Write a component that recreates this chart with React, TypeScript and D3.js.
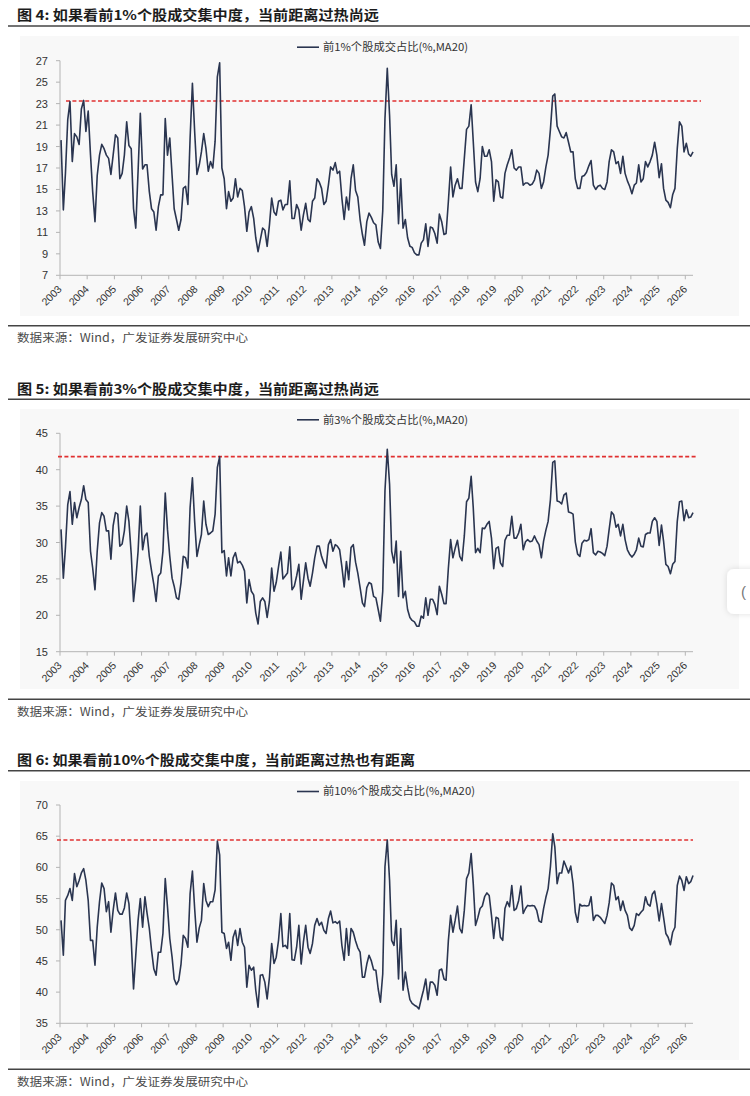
import React from "react";
import * as d3 from "d3";

// Monthly samples, Jan 2003 .. Apr 2026 (280 points)
const top1: number[] = [
  19.6, 13.1, 16.5, 21.5, 23.2, 17.6, 20.2, 19.9, 19.2, 22.5, 23.3, 20.4,
  22.3, 18.2, 14.8, 12.0, 16.3, 18.2, 19.2, 18.8, 18.2, 17.9, 16.4, 18.2,
  20.1, 19.8, 16.0, 16.5, 18.2, 21.3, 19.1, 18.8, 13.2, 11.4, 16.7, 22.1,
  16.9, 17.3, 17.3, 14.8, 13.2, 12.9, 11.2, 13.4, 14.5, 14.5, 21.6, 18.2,
  19.8, 16.3, 13.2, 12.2, 11.2, 12.2, 15.1, 15.3, 13.6, 19.8, 24.9, 20.4,
  16.4, 17.3, 18.5, 20.2, 18.8, 16.7, 17.6, 17.0, 19.5, 25.5, 26.8, 17.0,
  16.0, 13.2, 14.8, 13.9, 14.2, 16.0, 14.3, 15.1, 14.9, 13.4, 11.1, 12.9,
  13.4, 12.3, 10.5, 9.2, 10.3, 11.4, 11.2, 9.7, 11.7, 14.2, 12.9, 12.6,
  13.9, 14.0, 13.1, 13.6, 13.6, 15.8, 12.3, 12.3, 13.6, 13.1, 11.2, 12.6,
  13.7, 12.2, 12.0, 13.9, 14.2, 16.0, 15.7, 15.1, 13.6, 13.9, 15.4, 17.1,
  16.8, 17.5, 16.5, 16.7, 14.2, 12.2, 14.3, 13.1, 16.0, 17.3, 14.9, 14.3,
  12.2, 10.8, 9.8, 12.0, 12.8, 12.4, 11.9, 11.7, 10.1, 9.5, 13.0, 21.6,
  26.3, 21.9, 16.4, 15.3, 17.3, 11.8, 16.0, 11.4, 12.2, 10.5, 9.7, 9.6,
  9.1, 8.9, 8.9, 10.0, 10.3, 11.8, 9.7, 11.5, 11.4, 10.9, 10.0, 12.7,
  12.0, 10.8, 10.9, 13.9, 17.1, 14.3, 15.4, 16.0, 15.1, 15.1, 17.9, 20.6,
  20.9, 22.9, 19.5, 15.7, 14.8, 16.0, 19.0, 18.1, 18.1, 18.7, 17.6, 13.9,
  15.9, 15.7, 14.3, 14.2, 16.5, 17.3, 17.9, 18.7, 17.0, 16.8, 17.1, 17.1,
  15.4, 15.6, 15.6, 15.4, 15.5, 15.9, 16.8, 16.5, 15.1, 15.7, 17.1, 18.2,
  20.6, 23.7, 23.9, 20.9, 20.4, 19.9, 19.8, 20.3, 19.4, 18.5, 18.5, 16.0,
  15.1, 15.1, 16.2, 16.3, 16.6, 17.2, 17.7, 15.4, 15.0, 15.3, 15.4, 15.1,
  15.0, 15.7, 17.6, 18.7, 18.5, 17.4, 17.6, 16.5, 18.1, 16.5, 15.8, 15.3,
  14.6, 15.4, 15.6, 17.3, 15.7, 16.0, 17.6, 17.1, 17.6, 18.2, 19.4, 18.2,
  16.1, 17.4, 15.1, 14.0, 13.8, 13.3, 14.5, 15.1, 18.8, 21.3, 20.9, 18.5,
  19.3, 18.3, 18.1, 18.5,
];

const top3: number[] = [
  31.8, 25.1, 29.3, 35.2, 37.0, 32.5, 35.5, 33.4, 34.8, 35.9, 37.8, 35.9,
  35.5, 28.8, 26.5, 23.5, 28.8, 32.7, 34.1, 33.6, 31.6, 31.6, 27.7, 32.3,
  34.1, 33.9, 29.5, 29.8, 31.6, 35.0, 32.9, 28.4, 21.9, 24.9, 28.8, 35.0,
  29.0, 30.9, 31.3, 28.1, 26.1, 24.2, 21.9, 25.4, 25.8, 28.8, 36.8, 31.8,
  28.1, 25.1, 24.0, 22.4, 22.2, 24.5, 28.1, 27.9, 26.5, 34.8, 38.9, 32.9,
  28.1, 29.7, 31.1, 35.7, 32.5, 31.1, 31.3, 31.6, 33.9, 40.3, 41.8, 28.6,
  28.9, 25.4, 27.9, 25.4, 27.9, 28.6, 27.2, 27.4, 26.9, 26.1, 21.7, 24.9,
  23.3, 22.8, 20.3, 18.8, 21.9, 22.4, 21.9, 19.7, 21.9, 26.5, 23.3, 24.5,
  26.7, 28.7, 25.0, 25.4, 25.8, 29.4, 23.5, 24.0, 25.4, 27.0, 22.2, 24.7,
  27.2, 25.1, 24.0, 25.8, 27.9, 29.5, 29.5, 28.1, 27.2, 26.5, 29.7, 30.4,
  28.8, 29.7, 29.5, 29.0, 26.7, 23.9, 27.4, 24.9, 29.3, 29.7, 27.3, 25.8,
  23.8, 21.7, 21.2, 23.8, 24.5, 24.3, 22.6, 22.4, 20.8, 19.2, 23.3, 37.1,
  42.8, 38.0, 28.8, 27.2, 30.2, 22.6, 28.8, 22.4, 23.3, 20.8, 19.7, 19.3,
  19.1, 18.5, 18.5, 19.9, 19.6, 22.4, 20.0, 22.2, 22.2, 21.5, 20.1, 24.0,
  22.9, 21.6, 21.6, 26.5, 30.4, 27.9, 29.2, 30.3, 28.1, 27.5, 30.9, 35.6,
  36.1, 39.1, 34.8, 28.6, 29.2, 28.6, 32.0, 31.9, 32.5, 32.9, 30.6, 26.4,
  29.2, 29.4, 27.2, 26.7, 30.3, 31.0, 31.0, 33.6, 30.6, 30.6, 31.3, 32.5,
  29.0, 30.1, 30.4, 30.1, 30.2, 30.9, 30.2, 29.7, 27.9, 30.2, 31.7, 32.9,
  35.9, 41.0, 41.2, 35.7, 35.6, 35.3, 36.5, 36.8, 34.2, 34.1, 33.9, 30.1,
  28.4, 28.1, 29.9, 30.3, 30.2, 30.4, 31.9, 28.6, 28.3, 28.8, 28.7, 28.5,
  28.2, 29.5, 31.8, 34.2, 33.8, 32.1, 32.5, 30.9, 32.5, 30.4, 29.0, 28.4,
  28.0, 28.4, 29.0, 30.6, 29.5, 29.4, 31.1, 31.3, 31.3, 32.9, 33.4, 32.9,
  29.6, 32.4, 30.2, 27.0, 26.7, 25.7, 27.0, 27.4, 32.9, 35.6, 35.7, 33.0,
  34.5, 33.4, 33.5, 34.1,
];

const top10: number[] = [
  51.5, 45.9, 54.7, 55.5, 56.6, 54.7, 59.0, 56.9, 57.9, 59.1, 59.8, 57.9,
  54.7, 48.3, 48.3, 44.3, 50.4, 54.5, 57.5, 56.6, 52.9, 54.5, 49.6, 53.1,
  55.9, 53.1, 52.5, 52.5, 53.5, 55.9, 54.2, 48.3, 40.5, 45.9, 51.5, 55.0,
  50.4, 55.3, 52.7, 50.2, 46.7, 43.7, 42.7, 46.4, 46.4, 49.4, 58.2, 53.7,
  48.6, 45.6, 42.1, 41.2, 41.9, 44.5, 49.1, 48.6, 47.2, 55.8, 59.4, 53.4,
  48.0, 50.3, 51.5, 57.4, 54.7, 53.7, 54.5, 54.5, 56.4, 64.2, 62.0, 49.6,
  49.4, 47.0, 48.0, 45.1, 48.8, 49.9, 47.5, 50.2, 48.0, 47.2, 40.8, 44.3,
  43.5, 44.0, 40.3, 37.6, 42.7, 42.8, 41.6, 38.9, 42.4, 47.8, 44.6, 45.6,
  48.3, 52.6, 47.3, 47.5, 47.0, 52.6, 45.2, 45.1, 47.2, 50.7, 44.5, 48.0,
  50.7, 47.2, 46.2, 47.8, 50.7, 51.8, 50.7, 51.2, 49.9, 49.4, 51.8, 53.0,
  51.1, 51.3, 51.0, 51.4, 47.5, 45.1, 50.2, 45.9, 50.2, 49.6, 48.2, 47.1,
  46.4, 42.4, 42.4, 44.5, 45.9, 45.0, 43.6, 43.5, 40.5, 38.4, 42.9, 60.1,
  64.4, 57.9, 48.3, 47.5, 51.5, 42.1, 50.2, 40.3, 43.2, 40.8, 38.8, 38.2,
  37.9, 37.7, 37.3, 38.9, 40.3, 42.1, 38.8, 41.6, 41.6, 41.1, 39.5, 43.5,
  43.7, 42.1, 41.9, 48.3, 52.3, 49.6, 51.5, 53.8, 50.2, 49.5, 53.1, 58.2,
  59.1, 62.2, 57.4, 50.7, 51.9, 53.4, 53.8, 55.3, 55.9, 55.5, 52.3, 48.6,
  52.0, 51.8, 48.8, 48.3, 53.4, 54.5, 53.7, 57.1, 53.1, 53.4, 54.7, 57.0,
  52.6, 53.4, 53.9, 53.8, 53.9, 53.8, 53.1, 51.4, 51.2, 53.4, 55.2, 56.6,
  60.1, 65.4, 63.3, 57.4, 59.1, 59.1, 61.0, 60.1, 59.1, 60.2, 57.4, 52.8,
  51.2, 54.1, 53.8, 53.9, 53.8, 53.9, 55.3, 51.5, 52.3, 52.3, 52.0, 51.5,
  51.0, 52.3, 54.3, 57.5, 57.1, 54.8, 55.3, 53.1, 54.6, 53.1, 52.3, 50.3,
  49.9, 50.7, 52.6, 52.3, 52.8, 53.2, 55.3, 54.1, 53.8, 55.7, 56.2, 54.1,
  51.4, 54.2, 52.0, 49.4, 48.8, 47.6, 49.6, 50.4, 57.1, 58.6, 57.9, 56.3,
  58.5, 57.4, 57.7, 58.7,
];

const yearLabels = [
  "2003", "2004", "2005", "2006", "2007", "2008", "2009", "2010", "2011", "2012", "2013", "2014",
  "2015", "2016", "2017", "2018", "2019", "2020", "2021", "2022", "2023", "2024", "2025", "2026",
];
const ticks1 = [7, 9, 11, 13, 15, 17, 19, 21, 23, 25, 27];
const ticks3 = [15, 20, 25, 30, 35, 40, 45];
const ticks10 = [35, 40, 45, 50, 55, 60, 65, 70];
const redLevels = [23.25, 41.8, 64.4];

const titles = [
  "图 4:  如果看前1%个股成交集中度，当前距离过热尚远",
  "图 5:  如果看前3%个股成交集中度，当前距离过热尚远",
  "图 6:  如果看前10%个股成交集中度，当前距离过热也有距离",
];
const legends = [
  "前1%个股成交占比(%,MA20)",
  "前3%个股成交占比(%,MA20)",
  "前10%个股成交占比(%,MA20)",
];
const sourceText = "数据来源：Wind，广发证券发展研究中心";

const months: Date[] = d3
  .timeMonth.range(new Date(2003, 0, 1), new Date(2026, 4, 1))
  .map((d) => new Date(d.getFullYear(), d.getMonth(), 15));

const NAVY = "#2a3550";
const RED = "#e03030";
const CJK = "'Noto Sans CJK SC', 'Noto Sans', sans-serif";
const LAT = "'Liberation Sans', Arial, sans-serif";

type Cfg = {
  title: string;
  titleLen: number;
  titleY: number;
  ruleY: number;
  bgTop: number;
  bgBottom: number;
  legend: string;
  legendLen: number;
  plotTop: number;
  plotBottom: number;
  ticks: number[];
  data: number[];
  red: number;
  redX0: number;
  redX1: number;
  bottomRule: number;
  sourceY: number;
};

const cfgs: Cfg[] = [
  {
    title: titles[0], titleLen: 362, titleY: 19.5, ruleY: 26, bgTop: 36, bgBottom: 316,
    legend: legends[0], legendLen: 145, plotTop: 60.7, plotBottom: 275.3, ticks: ticks1,
    data: top1, red: redLevels[0], redX0: 66, redX1: 701, bottomRule: 325.7, sourceY: 342,
  },
  {
    title: titles[1], titleLen: 362, titleY: 393.5, ruleY: 399.3, bgTop: 409, bgBottom: 689,
    legend: legends[1], legendLen: 145, plotTop: 433.3, plotBottom: 651.7, ticks: ticks3,
    data: top3, red: redLevels[1], redX0: 58, redX1: 697, bottomRule: 699.3, sourceY: 716,
  },
  {
    title: titles[2], titleLen: 398, titleY: 765, ruleY: 770.7, bgTop: 781, bgBottom: 1060,
    legend: legends[2], legendLen: 152, plotTop: 805, plotBottom: 1023.3, ticks: ticks10,
    data: top10, red: redLevels[2], redX0: 57, redX1: 693, bottomRule: 1069.3, sourceY: 1086,
  },
];

function Panel({ c }: { c: Cfg }) {
  const x = d3
    .scaleTime()
    .domain([new Date(2003, 0, 1), new Date(2026, 0, 1)])
    .range([60, 685.3]);
  const y = d3
    .scaleLinear()
    .domain([c.ticks[0], c.ticks[c.ticks.length - 1]])
    .range([c.plotBottom, c.plotTop]);
  const line = d3
    .line<number>()
    .x((_, i) => x(months[i]))
    .y((v) => y(v));
  const axisColor = "#b4b4b4";
  const xAxisEnd = 693;
  const legendY = c.plotTop - 13.5;
  return (
    <g>
      <text x={17} y={c.titleY} fontFamily={CJK} fontWeight={700} fontSize={13.5} fill="#1c1c1c"
        textLength={c.titleLen} lengthAdjust="spacingAndGlyphs">{c.title}</text>
      <line x1={8} x2={750} y1={c.ruleY} y2={c.ruleY} stroke="#444" strokeWidth={1.6} />
      <rect x={20} y={c.bgTop} width={719} height={c.bgBottom - c.bgTop} fill="#f8f8f8" />
      {/* legend */}
      <line x1={297} x2={319} y1={legendY} y2={legendY} stroke={NAVY} strokeWidth={1.6} />
      <text x={323} y={legendY + 3.8} fontFamily={CJK} fontSize={11} fill="#333"
        textLength={c.legendLen} lengthAdjust="spacingAndGlyphs">{c.legend}</text>
      {/* y axis */}
      <line x1={60} x2={60} y1={c.plotTop} y2={c.plotBottom} stroke={axisColor} strokeWidth={1} />
      {c.ticks.map((t) => (
        <g key={t}>
          <line x1={56} x2={60} y1={y(t)} y2={y(t)} stroke={axisColor} strokeWidth={1} />
          <text x={48} y={y(t) + 4} textAnchor="end" fontFamily={LAT} fontSize={11} fill="#333">{t}</text>
        </g>
      ))}
      {/* x axis */}
      <line x1={60} x2={xAxisEnd} y1={c.plotBottom} y2={c.plotBottom} stroke={axisColor} strokeWidth={1} />
      {yearLabels.map((lab) => {
        const tx = x(new Date(+lab, 0, 1));
        return (
          <g key={lab}>
            <line x1={tx} x2={tx} y1={c.plotBottom} y2={c.plotBottom + 4} stroke={axisColor} strokeWidth={1} />
            <text transform={`translate(${tx + 2.5},${c.plotBottom + 14.5}) rotate(-45)`} textAnchor="end"
              fontFamily={LAT} fontSize={10.5} fill="#333">{lab}</text>
          </g>
        );
      })}
      {/* red threshold */}
      <line x1={c.redX0} x2={c.redX1} y1={y(c.red)} y2={y(c.red)} stroke={RED} strokeWidth={1.6}
        strokeDasharray="4 2.4" />
      {/* series */}
      <path d={line(c.data) || ""} fill="none" stroke={NAVY} strokeWidth={1.6} strokeLinejoin="round" />
      {/* footer */}
      <line x1={8} x2={750} y1={c.bottomRule} y2={c.bottomRule} stroke="#444" strokeWidth={1.6} />
      <text x={17} y={c.sourceY} fontFamily={CJK} fontSize={11.5} fill="#4a4a4a"
        textLength={231} lengthAdjust="spacingAndGlyphs">{sourceText}</text>
    </g>
  );
}

export default function App() {
  return (
    <svg width={750} height={1096} viewBox="0 0 750 1096"
      style={{ position: "absolute", left: 0, top: 0, display: "block", background: "#fff" }}>
      <defs>
        <filter id="chipShadow" x="-50%" y="-50%" width="200%" height="200%">
          <feDropShadow dx={0} dy={0} stdDeviation={3} floodColor="#000" floodOpacity={0.12} />
        </filter>
      </defs>
      <rect x={0} y={0} width={750} height={1096} fill="#fff" />
      {cfgs.map((c, i) => (
        <Panel key={i} c={c} />
      ))}
      <rect x={727} y={569} width={40} height={45} rx={7} fill="#fff" filter="url(#chipShadow)" />
      <text x={741} y={597} fontFamily={LAT} fontSize={15} fill="#777">(</text>
    </svg>
  );
}
